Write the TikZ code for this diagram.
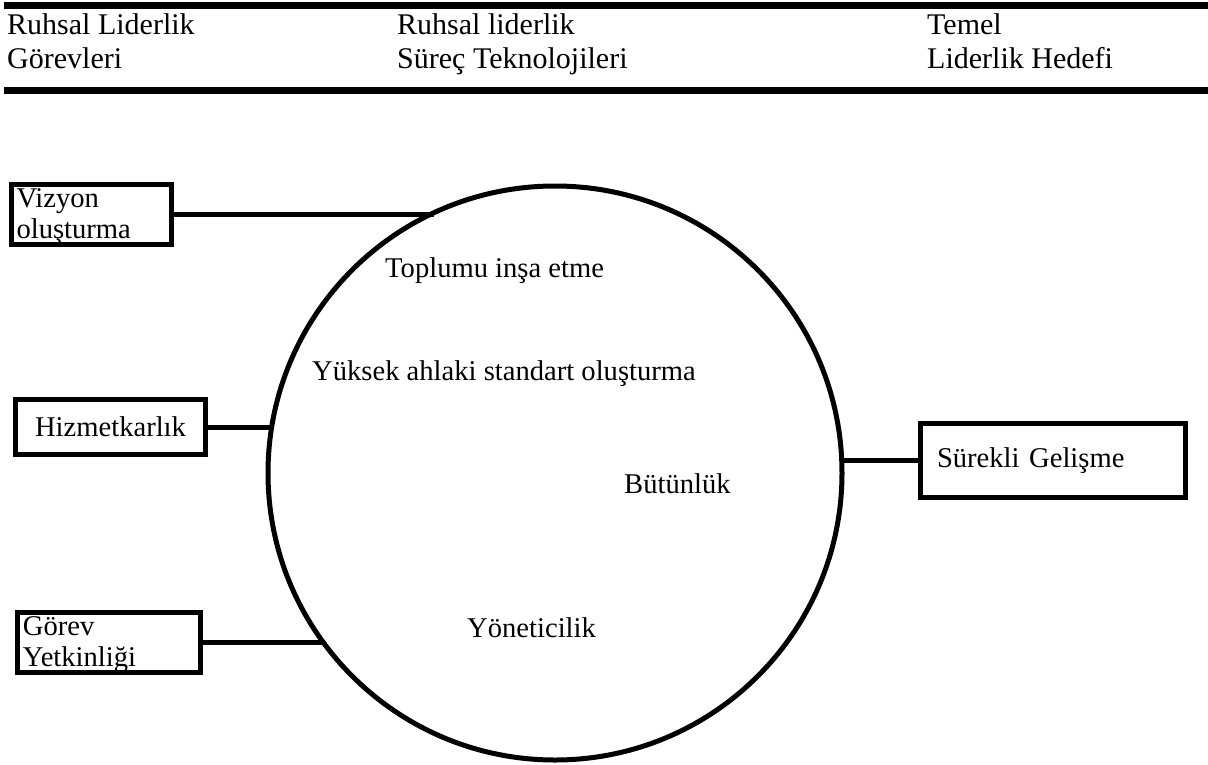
\documentclass[tikz,border=0pt]{standalone}
\usepackage{fontspec}
\setmainfont{Liberation Serif}
\begin{document}
\begin{tikzpicture}[x=1pt,y=-1pt,
  rule/.style={line width=7pt},
  conn/.style={line width=5pt},
  taskbox/.style={draw, line width=5pt, rectangle, outer sep=0pt, inner ysep=0pt, font=\fontsize{28.6}{31}\selectfont},
  inner/.style={inner sep=0pt, anchor=base west, font=\fontsize{28.6}{31}\selectfont},
  head/.style={inner sep=0pt, anchor=north west, align=left, font=\fontsize{30}{34}\selectfont}]
\useasboundingbox (0,0) rectangle (1208,764);
\fill[white] (0,0) rectangle (1208,764);
% header rules
\draw[rule] (4,5) -- (1208,5);
\draw[rule] (4,90) -- (1208,90);
% header texts
\node[head] (h1) at (7,13) {Ruhsal Liderlik\\Görevleri};
\node[head] (h2) at (397,13) {Ruhsal liderlik\\Süreç Teknolojileri};
\node[head] (h3) at (927,13) {Temel\\Liderlik Hedefi};
% circle
\node[circle, draw, line width=5pt, minimum size=574pt, inner sep=0pt, outer sep=0pt] (c) at (555,473) {};
% inner texts
\node[inner] (t1) at (385,277) {Toplumu inşa etme};
\node[inner] (t2) at (312,380) {Yüksek ahlaki standart oluşturma};
\node[inner] (t3) at (624,493) {Bütünlük};
\node[inner] (t4) at (467,637) {Yöneticilik};
% boxes
\node[taskbox, minimum width=160pt, minimum height=58pt, text width=150pt, inner xsep=5pt, text height=23pt, align=left] (v) at (91.5,214.5) {Vizyon\\oluşturma};
\node[taskbox, minimum width=190pt, minimum height=55pt, align=center] (hz) at (110.5,427) {Hizmetkarlık};
\node[taskbox, minimum width=183pt, minimum height=56pt, text width=172pt, inner xsep=5.5pt, text height=23pt, align=left] (g) at (109,642.5) {Görev\\Yetkinliği};
\node[taskbox, minimum width=265pt, minimum height=74pt, text width=232pt, inner xsep=16.5pt, align=left] (s) at (1053,460.5) {Sürekli Gelişme};
% connectors
\draw[conn] (v.east) -- (v.east -| c.115.75);
\draw[conn] (hz.east) -- (hz.east -| c.170.8);
\draw[conn] (g.east) -- (g.east -| c.216.2);
\draw[conn] (s.west) -- (s.west -| c.2.5);
\end{tikzpicture}
\end{document}
